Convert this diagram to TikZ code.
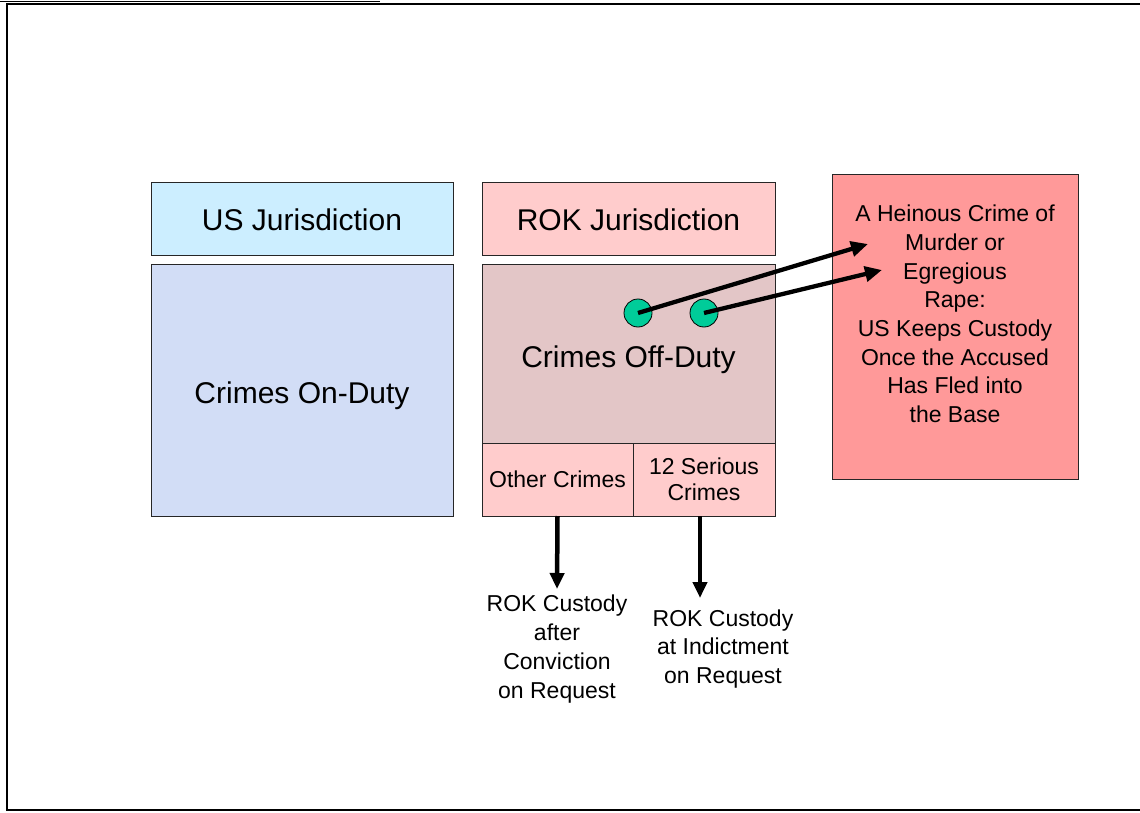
\documentclass[tikz,border=0pt]{standalone}
\usepackage{fontspec}
\setmainfont{Liberation Sans}
\usetikzlibrary{shapes,arrows.meta,positioning}

\definecolor{usblue}{HTML}{CCEEFF}
\definecolor{ontexture}{HTML}{D2DDF6}
\definecolor{rokpink}{HTML}{FFCCCC}
\definecolor{offtexture}{HTML}{E3C6C7}
\definecolor{heinousred}{HTML}{FF9999}
\definecolor{dotgreen}{HTML}{00CC99}

\tikzstyle{box} = [draw=black!85, line width=1pt, inner sep=0pt, align=center]
\tikzstyle{arrow} = [line width=4.3pt, -{Triangle[length=17pt,width=15pt]}]
\tikzstyle{downarrow} = [line width=4.5pt, -{Triangle[length=16pt,width=14pt]}]
\newcommand{\bigtxt}{\fontsize{30}{36}\selectfont}
\newcommand{\smalltxt}{\fontsize{23}{28.7}\selectfont}
% lower a text line inside its box, keeping the box size
\newcommand{\lowered}[2]{\raisebox{-#1}[22pt][6pt]{#2}}

\begin{document}
\begin{tikzpicture}[x=1pt, y=-1pt]
    \useasboundingbox (0,0) rectangle (1140,813);
    % page frame
    \draw[line width=0.8pt] (0,1) -- (380,1);
    \draw[line width=2.5pt] (1140,4) -- (7,4) -- (7,810) -- (1140,810);

    % US side
    \node[box, fill=usblue, minimum width=302, minimum height=72, font=\bigtxt] (usjur) at (302,219) {\lowered{3pt}{US Jurisdiction}};
    \node[box, fill=ontexture, minimum width=302, minimum height=252, font=\bigtxt] (onduty) at (302,390) {\lowered{5pt}{Crimes On-Duty}};

    % ROK side
    \node[box, fill=rokpink, minimum width=293, minimum height=72, font=\bigtxt] (rokjur) at (628.5,219) {\lowered{3pt}{ROK Jurisdiction}};
    \node[box, fill=offtexture, minimum width=293, minimum height=179, font=\bigtxt] (offduty) at (628.5,353.5) {\lowered{6pt}{Crimes Off-Duty}};
    \node[box, fill=rokpink, minimum width=151, minimum height=73, font=\smalltxt] (other) at (557.5,479.5) {\raisebox{-2pt}[17pt][5pt]{Other Crimes}};
    \node[box, fill=rokpink, minimum width=142, minimum height=73, font=\smalltxt] (serious) at (704,479.5) {\raisebox{-1.5pt}{\shortstack{12 Serious\\[6pt]Crimes}}};

    % heinous crimes
    \node[box, fill=heinousred, minimum width=246, minimum height=304] (heinous) at (955,327) {};
    \node[align=center, font=\smalltxt, inner sep=0pt] (heinoustxt) at (955,314)
        {A Heinous Crime of\\Murder or\\Egregious\\Rape:\\US Keeps Custody\\Once the Accused\\Has Fled into\\the Base};

    \node[circle, draw=black, line width=0.8pt, fill=dotgreen, minimum size=28, inner sep=0pt] (dota) at (638,313) {};
    \node[circle, draw=black, line width=0.8pt, fill=dotgreen, minimum size=28, inner sep=0pt] (dotb) at (704,313) {};
    \coordinate (tipa) at (868,244);
    \coordinate (tipb) at (882,270);
    \draw[arrow] (dota.center) -- (tipa);
    \draw[arrow] (dotb.center) -- (tipb);

    % custody outcomes
    \node[align=center, font=\smalltxt, inner sep=0pt] (aftercon) at (557,649) {ROK Custody\\after\\Conviction\\on Request};
    \node[align=center, font=\smalltxt, inner sep=0pt] (atindict) at (723,649) {ROK Custody\\at Indictment\\on Request};
    \coordinate (othertip) at (557,589);
    \coordinate (serioustip) at (700,598);
    \draw[downarrow] ([yshift=0.5]other.south) -- (othertip);
    \draw[downarrow] ([xshift=-4, yshift=0.5]serious.south) -- (serioustip);
\end{tikzpicture}
\end{document}
